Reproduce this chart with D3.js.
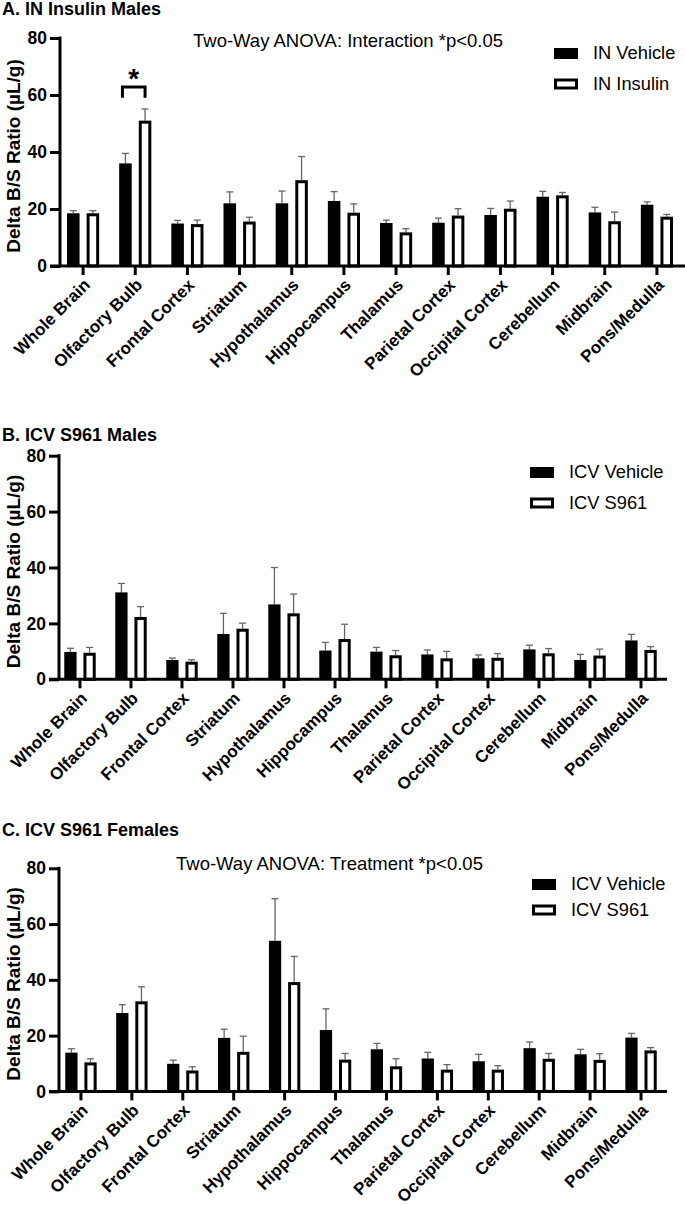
<!DOCTYPE html>
<html>
<head>
<meta charset="utf-8">
<script src="https://cdn.jsdelivr.net/npm/d3@7"></script>
<style>
  body { margin: 0; background: #fff; }
  svg { display: block; font-family: "Liberation Sans", Arial, sans-serif; }
</style>
</head>
<body>
<div id="chart"></div>
<script>
// categories
var regions = ["Whole Brain", "Olfactory Bulb", "Frontal Cortex", "Striatum", "Hypothalamus", "Hippocampus",
  "Thalamus", "Parietal Cortex", "Occipital Cortex", "Cerebellum", "Midbrain", "Pons/Medulla"];
var yTicks = [0, 20, 40, 60, 80];

// A. IN Insulin Males
var inVehicle = [18.5, 36.0, 14.9, 22.0, 22.0, 22.8, 15.1, 15.2, 17.9, 24.3, 18.8, 21.5];
var inVehicleSem = [0.9, 3.5, 1.1, 4.0, 4.3, 3.3, 1.0, 1.6, 2.3, 1.9, 1.8, 1.0];
var inInsulin = [18.5, 51.0, 14.7, 15.6, 30.1, 18.7, 11.8, 17.7, 20.1, 24.8, 15.7, 17.3];
var inInsulinSem = [0.9, 4.1, 1.4, 1.5, 8.3, 3.1, 1.3, 2.4, 2.7, 1.0, 3.2, 0.8];

// B. ICV S961 Males
var icvVehicleM = [9.8, 31.1, 6.9, 16.2, 26.8, 10.3, 9.9, 8.9, 7.5, 10.7, 6.9, 13.9];
var icvVehicleMSem = [1.3, 3.2, 0.7, 7.4, 13.2, 2.9, 1.5, 1.6, 1.2, 1.5, 2.0, 2.2];
var icvS961M = [9.5, 22.3, 6.3, 18.1, 23.6, 14.4, 8.6, 7.5, 7.7, 9.3, 8.5, 10.5];
var icvS961MSem = [1.9, 3.7, 0.7, 2.0, 6.9, 5.3, 1.7, 2.5, 1.5, 1.7, 2.3, 1.2];

// C. ICV S961 Females
var icvVehicleF = [13.9, 28.1, 9.9, 19.2, 54.0, 22.0, 15.1, 11.8, 10.8, 15.5, 13.3, 19.3];
var icvVehicleFSem = [1.4, 3.0, 1.3, 3.1, 15.1, 7.6, 2.1, 2.2, 2.5, 2.2, 1.8, 1.5];
var icvS961F = [10.4, 32.3, 7.5, 14.2, 39.2, 11.4, 9.0, 7.8, 7.8, 11.7, 11.3, 14.7];
var icvS961FSem = [1.3, 5.2, 1.3, 5.6, 9.2, 2.2, 2.7, 1.8, 1.4, 1.9, 2.2, 1.0];

// significance bracket in panel A (values in µL/g)
var sigA = { region: "Olfactory Bulb", top: 62.8, leg: 59, star: "*" };

var svg = d3.select("#chart").append("svg")
  .attr("width", 685)
  .attr("height", 1205);

function drawPanel(p){
  var g = svg.append("g");

  var x = d3.scaleBand()
    .domain(regions)
    .range(p.xRange);
  var xi = d3.scaleBand()
    .domain([0, 1])
    .range([0, x.bandwidth()])
    .paddingInner(0.36)
    .paddingOuter(0.51);
  var y = d3.scaleLinear()
    .domain([0, 80])
    .range([p.yBottom, p.yTop]);

  // title
  g.append("text")
    .attr("x", 2)
    .attr("y", p.titleY)
    .attr("font-size", 18)
    .attr("font-weight", "bold")
    .text(p.title);

  if(p.note){
    g.append("text")
      .attr("x", p.noteX)
      .attr("y", p.noteY)
      .attr("font-size", 18.5)
      .text(p.note);
  }

  // rows for bars
  var rows = [];
  regions.forEach(function(r, i){
    p.series.forEach(function(s, j){
      rows.push({ region: r, s: j, v: s.values[i], e: s.sem[i] });
    });
  });

  var bw = xi.bandwidth();

  // error bars (upper only)
  var eb = g.selectAll(".err").data(rows).enter().append("g");
  eb.append("line")
    .attr("x1", function(d){ return x(d.region) + xi(d.s) + bw / 2; })
    .attr("x2", function(d){ return x(d.region) + xi(d.s) + bw / 2; })
    .attr("y1", function(d){ return y(d.v); })
    .attr("y2", function(d){ return y(d.v + d.e); })
    .attr("stroke", "#666")
    .attr("stroke-width", 1.3);
  eb.append("line")
    .attr("x1", function(d){ return x(d.region) + xi(d.s) + bw / 2 - 3.5; })
    .attr("x2", function(d){ return x(d.region) + xi(d.s) + bw / 2 + 3.5; })
    .attr("y1", function(d){ return y(d.v + d.e); })
    .attr("y2", function(d){ return y(d.v + d.e); })
    .attr("stroke", "#666")
    .attr("stroke-width", 1.3);

  // Bars
  g.selectAll(".bar").data(rows).enter().append("rect")
    .attr("x", function(d){ return x(d.region) + xi(d.s) + (d.s === 1 ? 1.5 : 0); })
    .attr("y", function(d){ return y(d.v) + (d.s === 1 ? 1.5 : 0); })
    .attr("width", function(d){ return d.s === 1 ? bw - 3 : bw; })
    .attr("height", function(d){ return y(0) - y(d.v) - (d.s === 1 ? 1.5 : 0); })
    .attr("fill", function(d){ return d.s === 1 ? "#fff" : "#000"; })
    .attr("stroke", function(d){ return d.s === 1 ? "#000" : "none"; })
    .attr("stroke-width", 3);

  // Y axis
  var yAxis = g.append("g")
    .attr("transform", "translate(" + p.yAxisX + ",0)")
    .call(d3.axisLeft(y).tickValues(yTicks).tickSize(10).tickPadding(3).tickSizeOuter(0));
  yAxis.selectAll("path, line").attr("stroke", "#000").attr("stroke-width", 3);
  yAxis.select("path").attr("d", "M0," + (y(80) - 1.5) + "V" + y(0));
  yAxis.selectAll("text")
    .attr("fill", "#000")
    .attr("font-size", 17.5)
    .attr("font-weight", "bold")
    .attr("font-family", "Liberation Sans, Arial, sans-serif");

  // X axis
  var xAxis = g.append("g")
    .attr("transform", "translate(0," + y(0) + ")")
    .call(d3.axisBottom(x).tickSize(9).tickSizeOuter(0));
  xAxis.select("path").attr("d", "M" + (p.yAxisX - 10) + ",0H" + p.xEnd)
    .attr("stroke", "#000").attr("stroke-width", 3);
  xAxis.selectAll("line").attr("stroke", "#000").attr("stroke-width", 3);
  xAxis.selectAll("text")
    .attr("fill", "#000")
    .attr("font-size", 17)
    .attr("font-weight", "bold")
    .attr("font-family", "Liberation Sans, Arial, sans-serif")
    .attr("text-anchor", "end")
    .attr("dy", null)
    .attr("y", 0)
    .attr("transform", "translate(8,20) rotate(-45)");

  // y axis title
  g.append("text")
    .attr("transform", "translate(20," + ((p.yTop + p.yBottom) / 2 + 4) + ") rotate(-90)")
    .attr("text-anchor", "middle")
    .attr("font-size", 19)
    .attr("font-weight", "bold")
    .text("Delta B/S Ratio (µL/g)");

  // legend
  p.series.forEach(function(s, j){
    var ly = p.legY + j * p.legStep;
    g.append("rect")
      .attr("x", p.legX + (j === 1 ? 1.5 : 0))
      .attr("y", ly + (j === 1 ? 1.5 : 0))
      .attr("width", j === 1 ? 21 : 24)
      .attr("height", j === 1 ? 8 : 11)
      .attr("fill", j === 1 ? "#fff" : "#000")
      .attr("stroke", j === 1 ? "#000" : "none")
      .attr("stroke-width", 3);
    g.append("text")
      .attr("x", p.legX + 39)
      .attr("y", ly + 11)
      .attr("font-size", 18.3)
      .text(s.name);
  });

  // significance
  if(p.sig){
    var cx = x(p.sig.region);
    var x1 = cx + xi(0) + bw / 2 - 3;
    var x2 = cx + xi(1) + bw / 2;
    g.append("path")
      .attr("d", "M" + x1 + "," + y(p.sig.leg) + "V" + y(p.sig.top) + "H" + x2 + "V" + y(p.sig.leg))
      .attr("fill", "none")
      .attr("stroke", "#000")
      .attr("stroke-width", 3);
    g.append("text")
      .attr("x", (x1 + x2) / 2)
      .attr("y", y(p.sig.top) + 1)
      .attr("text-anchor", "middle")
      .attr("font-size", 28)
      .attr("font-weight", "bold")
      .text(p.sig.star);
  }
}

drawPanel({
  title: "A. IN Insulin Males", titleY: 15,
  note: "Two-Way ANOVA: Interaction *p<0.05", noteX: 193, noteY: 47,
  yTop: 38, yBottom: 266, xRange: [57, 683], xEnd: 685, yAxisX: 60,
  legX: 554, legY: 48, legStep: 30.5,
  series: [
    { name: "IN Vehicle", values: inVehicle, sem: inVehicleSem },
    { name: "IN Insulin", values: inInsulin, sem: inInsulinSem }
  ],
  sig: sigA
});

drawPanel({
  title: "B. ICV S961 Males", titleY: 441,
  yTop: 455.7, yBottom: 679.3, xRange: [54.5, 666.5], xEnd: 667, yAxisX: 59,
  legX: 530, legY: 467, legStep: 30.5,
  series: [
    { name: "ICV Vehicle", values: icvVehicleM, sem: icvVehicleMSem },
    { name: "ICV S961", values: icvS961M, sem: icvS961MSem }
  ]
});

drawPanel({
  title: "C. ICV S961 Females", titleY: 836,
  note: "Two-Way ANOVA: Treatment *p<0.05", noteX: 176, noteY: 870,
  yTop: 868.3, yBottom: 1091.4, xRange: [55.5, 666.5], xEnd: 667, yAxisX: 59,
  legX: 532, legY: 879, legStep: 25.5,
  series: [
    { name: "ICV Vehicle", values: icvVehicleF, sem: icvVehicleFSem },
    { name: "ICV S961", values: icvS961F, sem: icvS961FSem }
  ]
});
</script>
</body>
</html>
